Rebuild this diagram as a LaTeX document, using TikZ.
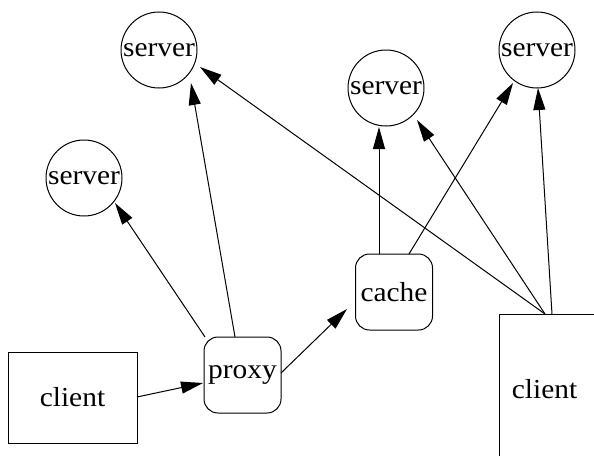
\documentclass[tikz,border=0pt]{standalone}
\usepackage{fontspec}
\setmainfont{Liberation Serif}[FakeStretch=1.07]
\usetikzlibrary{arrows.meta,calc}
\begin{document}
\begin{tikzpicture}[x=1pt,y=-1pt,
  every node/.style={font=\fontsize{27.5}{31}\selectfont, inner sep=0pt, line width=1pt},
  srv/.style={draw, circle, minimum size=76pt},
  hop/.style={draw, rounded corners=14pt, minimum width=77pt, minimum height=76pt},
  host/.style={draw, rectangle},
  link/.style={line width=1pt, -{Triangle[length=22pt,width=12pt]}}
]
\useasboundingbox (0,0) rectangle (594,455);

% servers
\node[srv] (s1) at (159,50)  {server};
\node[srv] (s2) at (84,178)  {server};
\node[srv] (s3) at (386,88)  {server};
\node[srv] (s4) at (537,50)  {server};

% intermediaries
\node[hop] (proxy) at (242.5,375) {proxy};
\node[hop] (cache) at (394,292)   {cache};

% clients
\node[host, minimum width=129pt, minimum height=91pt] (clientL) at (72.5,397.5) {client};
\node[host, minimum width=99pt, minimum height=150pt,
      label={[xshift=-4pt]center:client}] (clientR) at (548.5,389) {};

% requests
\draw[link] ($(clientL)+(64.5,-0.5)$) -- ($(proxy)+(-39.5,8)$);
\draw[link] ($(proxy)+(-37.5,-38)$) -- ($(s2)+(31,25)$);
\draw[link] ($(proxy)+(-7.5,-38)$)  -- ($(s1)+(32,33)$);
\draw[link] ($(proxy)+(38.5,-2)$)   -- ($(cache)+(-47,17)$);
\draw[link] ($(cache)+(-15,-38)$)   -- ($(s3)+(-7,39)$);
\draw[link] ($(cache)+(15,-38)$)    -- ($(s4)+(-24,33)$);
\draw[link] ($(clientR)+(-3.5,-75)$) -- ($(s1)+(41,17)$);
\draw[link] ($(clientR)+(-3.5,-75)$) -- ($(s3)+(31,32)$);
\draw[link] ($(clientR)+(3.5,-75)$)  -- ($(s4)+(1,38)$);
\end{tikzpicture}
\end{document}
